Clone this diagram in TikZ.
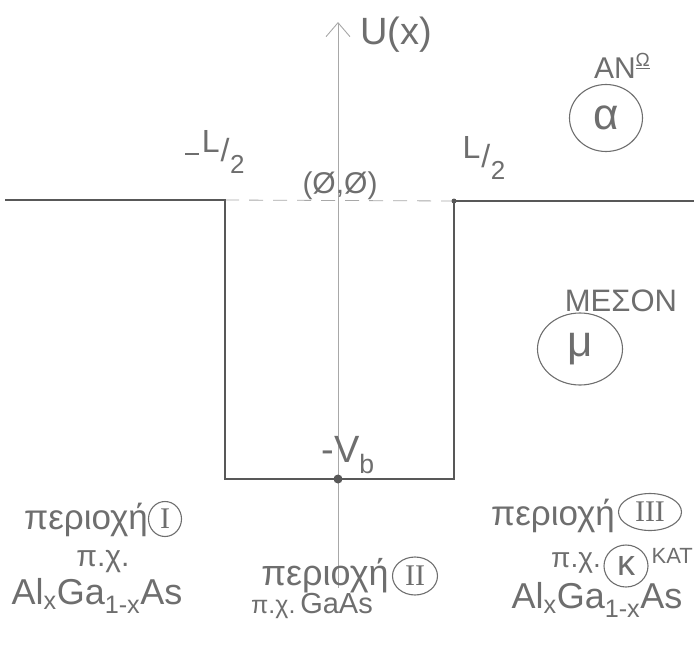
\documentclass[tikz,border=0pt]{standalone}
\usepackage{fontspec}
\setmainfont{Liberation Sans}
\newfontfamily\romfont{Liberation Serif}
\usetikzlibrary{arrows.meta,shapes.geometric}
\definecolor{pencil}{HTML}{585858}
\definecolor{pencilt}{HTML}{6E6E6E}
\definecolor{faint}{HTML}{A8A8A8}
\tikzset{
  well/.style={draw=pencil, line width=1.8pt},
  axisline/.style={draw=faint, line width=0.9pt, -{Straight Barb[length=14pt,width=24pt,line width=0.9pt]}},
  dashline/.style={draw=faint, line width=0.8pt, dash pattern=on 14pt off 10pt},
  lbl/.style={text=pencilt, inner sep=0pt},
  ring/.style={draw=pencilt, line width=1.1pt, ellipse, inner sep=0pt, text=pencilt},
  pointdot/.style={fill=pencil, circle, inner sep=0pt}
}
\newcommand{\fsz}[1]{\fontsize{#1}{#1}\selectfont}
\newcommand{\halfL}{\raisebox{.3em}{L}\kern.03em/\kern.02em\raisebox{-.38em}{\fsz{26}2}}
\begin{document}
\begin{tikzpicture}[x=1pt,y=-1pt]
\useasboundingbox (0,0) rectangle (694,651);
% well corners
\coordinate (LL) at (5,200);
\coordinate (A) at (225,200);
\coordinate (B) at (225,479);
\coordinate (C) at (454,479);
\coordinate (D) at (454,201);
\coordinate (RR) at (694,201);
\coordinate (axb) at (338,588);
\coordinate (axt) at (338,22);
% axis
\draw[axisline] (axb) -- (axt);
\draw[dashline] (A) -- (D);
% well
\draw[well] (LL) -- (A) -- (B) -- (C) -- (D) -- (RR);
\node[pointdot, minimum size=9pt] (origin) at (338,479) {};
\node[pointdot, minimum size=5pt] (corner) at (D) {};
% labels
\node[lbl, font=\fsz{38}] (U) at (396,35) {U(x)};
\node[lbl, font=\fsz{32}] (mL) at (215,152) {\raisebox{.2em}{\rule{14pt}{2pt}}\kern.08em\halfL};
\node[lbl, font=\fsz{32}] (pL) at (484,158) {\halfL};
\node[lbl, font=\fsz{30}] (zero) at (340,186) {(Ø,Ø)};
\node[lbl, font=\fsz{38}] (Vb) at (348,455) {-V\textsubscript{b}};
% upper / middle
\node[lbl, font=\fsz{30}] (ano) at (622,66) {ΑΝ\raisebox{.4em}{\fsz{19}\underline{Ω}}};
\node[ring, minimum width=73pt, minimum height=67pt] (alpha) at (606,118) {\fsz{44}\raisebox{-.1em}{α}};
\node[lbl, font=\fsz{31}] (meson) at (621,301) {ΜΕΣΟΝ};
\node[ring, minimum width=85pt, minimum height=72pt] (mu) at (580,349) {\fsz{44}\raisebox{-.2em}{μ}};
% region I
\node[lbl, font=\fsz{35}] (r1) at (86,520) {περιοχή};
\node[ring, minimum width=33pt, minimum height=35pt] (r1c) at (165,519) {\romfont\fsz{30}I};
\node[lbl, font=\fsz{30}] (r1px) at (103,562) {π.χ.};
\node[lbl, font=\fsz{36}] (r1m) at (97,596) {Al\textsubscript{x}Ga\textsubscript{1-x}As};
% region II
\node[lbl, font=\fsz{36}] (r2) at (325,576) {περιοχή};
\node[ring, minimum width=45pt, minimum height=38pt] (r2c) at (415,576) {\romfont\fsz{30}II};
\node[lbl, font=\fsz{29}] (r2px) at (312,606) {{\fsz{25}π.χ.}\,GaAs};
% region III
\node[lbl, font=\fsz{35}] (r3) at (553,516) {περιοχή};
\node[ring, minimum width=63pt, minimum height=37pt] (r3c) at (650,512) {\romfont\fsz{30}III};
\node[lbl, font=\fsz{28}] (r3px) at (576,563) {π.χ.};
\node[ring, minimum width=44pt, minimum height=42pt] (kappa) at (626,566) {\fsz{36}κ};
\node[lbl, font=\fsz{22}, anchor=east] (kat) at (693,556) {ΚΑΤ};
\node[lbl, font=\fsz{36}] (r3m) at (597,600) {Al\textsubscript{x}Ga\textsubscript{1-x}As};
\end{tikzpicture}
\end{document}
